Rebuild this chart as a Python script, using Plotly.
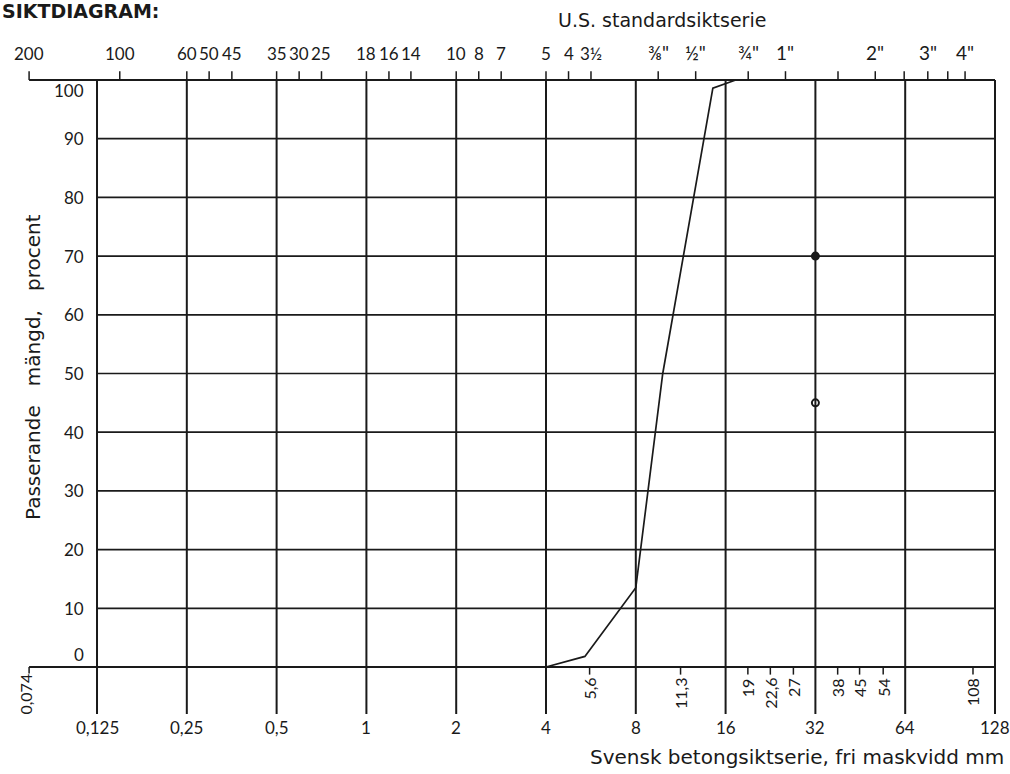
import numpy as np
import plotly.graph_objects as go

# Grading curve: mesh opening (mm) and cumulative passing (%)
sieve_mm = [4.0, 5.4, 8.0, 9.85, 14.5, 17.3]
passing_pct = [0, 1.8, 13.5, 50, 98.6, 100]

# Two single readings on the 32 mm sieve
check_mm = [32, 32]
check_pct = [70, 45]
check_symbols = ["circle", "circle-open"]

# Swedish concrete sieve series (bottom scale)
se_major = [0.125, 0.25, 0.5, 1, 2, 4, 8, 16, 32, 64, 128]
se_major_labels = ["0,125", "0,25", "0,5", "1", "2", "4", "8", "16", "32", "64", "128"]
se_minor = [5.6, 11.3, 19, 22.6, 27, 38, 45, 54, 108]
se_minor_labels = ["5,6", "11,3", "19", "22,6", "27", "38", "45", "54", "108"]
se_start = 0.074
se_start_label = "0,074"

# U.S. standard sieve series (top scale), openings in mm
us_mm = [0.074, 0.149, 0.250, 0.297, 0.354, 0.500, 0.595, 0.707, 1.00, 1.19,
         1.41, 2.00, 2.38, 2.83, 4.00, 4.76, 5.66, 9.51, 12.7, 19.05, 25.4,
         38.1, 50.8, 63.5, 76.2, 88.9, 101.6]
us_labels = ["200", "100", "60", "50", "45", "35", "30", "25", "18", "16",
             "14", "10", "8", "7", "5", "4", "3½", "⅜\"", "½\"", "¾\"", "1\"",
             "", "2\"", "", "3\"", "", "4\""]

pct_ticks = list(range(0, 101, 10))

INK = "#1a1a1a"
NUM_FONT = "Lato"
TXT_FONT = "DejaVu Sans"


def segments(pairs):
    xs, ys = [], []
    for x0, y0, x1, y1 in pairs:
        xs += [x0, x1, None]
        ys += [y0, y1, None]
    return xs, ys


def line_trace(pairs, width):
    xs, ys = segments(pairs)
    return go.Scatter(x=xs, y=ys, mode="lines", hoverinfo="skip",
                      line=dict(color=INK, width=width), showlegend=False)


x_lo, x_hi = se_start, se_major[-1]
fig = go.Figure()

# horizontal grid (10 .. 90 %)
fig.add_trace(line_trace([(se_major[0], p, x_hi, p) for p in pct_ticks[1:-1]], 1.7))
# 0 % and 100 % lines run across the full sieve range
fig.add_trace(line_trace([(x_lo, p, x_hi, p) for p in (pct_ticks[0], pct_ticks[-1])], 1.8))
# main sieve verticals, continuing below the 0 % line as ticks
fig.add_trace(line_trace([(m, -8.0, m, 100) for m in se_major], 2.0))
# intermediate Swedish sieves: short ticks below
fig.add_trace(line_trace([(m, 0, m, -1.3) for m in se_minor] + [(se_start, 0, se_start, -1.1)], 1.5))
# U.S. sieves: short ticks above the 100 % line
fig.add_trace(line_trace([(m, 100, m, 101.5) for m in us_mm], 1.5))

# grading curve
fig.add_trace(go.Scatter(x=sieve_mm, y=passing_pct, mode="lines", hoverinfo="skip",
                         line=dict(color=INK, width=1.7), showlegend=False))
# single readings
fig.add_trace(go.Scatter(x=check_mm, y=check_pct, mode="markers", hoverinfo="skip",
                         marker=dict(symbol=check_symbols, size=7, color=INK,
                                     line=dict(color=INK, width=2)),
                         showlegend=False))

ann = []
# percentage labels
for p in pct_ticks:
    shift = -10 if p == pct_ticks[-1] else (12 if p == pct_ticks[0] else 0)
    ann.append(dict(x=np.log10(se_major[0]), y=p, xref="x", yref="y", text=str(p),
                    xanchor="right", yanchor="middle", xshift=-11, yshift=shift,
                    showarrow=False, font=dict(family=NUM_FONT, size=17, color=INK)))
# U.S. series labels (inch sizes drawn a little larger)
for m, lab in zip(us_mm, us_labels):
    if lab:
        big = '"' in lab
        ann.append(dict(x=np.log10(m), y=100, xref="x", yref="y", text=lab,
                        xanchor="center", yanchor="bottom", yshift=14,
                        showarrow=False,
                        font=dict(family=NUM_FONT, size=19 if big else 17, color=INK)))
# main Swedish sieve labels
for m, lab in zip(se_major, se_major_labels):
    ann.append(dict(x=np.log10(m), y=0, xref="x", yref="y", text=lab,
                    xanchor="center", yanchor="middle", yshift=-61,
                    showarrow=False, font=dict(family=NUM_FONT, size=17, color=INK)))
# intermediate Swedish sieve labels, written upwards
for m, lab in zip(se_minor, se_minor_labels):
    ann.append(dict(x=np.log10(m), y=0, xref="x", yref="y", text=lab, textangle=-90,
                    xanchor="center", yanchor="top", yshift=-9,
                    showarrow=False, font=dict(family=NUM_FONT, size=16, color=INK)))
ann.append(dict(x=np.log10(se_start), y=0, xref="x", yref="y", text=se_start_label,
                textangle=-90, xanchor="center", yanchor="top", xshift=-4, yshift=-5,
                showarrow=False, font=dict(family=NUM_FONT, size=16, color=INK)))

# titles
ann.append(dict(x=np.log10(x_hi), y=0, xref="x", yref="y",
                text="Svensk betongsiktserie, fri maskvidd mm",
                xanchor="right", yanchor="middle", xshift=11, yshift=-90,
                showarrow=False, font=dict(family=TXT_FONT, size=20, color=INK)))
ann.append(dict(x=33 / 1010, y=1 - 367 / 774, xref="paper", yref="paper",
                text="Passerande\u00a0\u00a0 mängd,\u00a0\u00a0 procent", textangle=-90,
                xanchor="center", yanchor="middle",
                showarrow=False, font=dict(family=TXT_FONT, size=20, color=INK)))
ann.append(dict(x=0.0, y=1.0, xref="paper", yref="paper", text="<b>SIKTDIAGRAM:</b>",
                xanchor="left", yanchor="top", yshift=2,
                showarrow=False, font=dict(family=TXT_FONT, size=19, color=INK)))
ann.append(dict(x=662 / 1010, y=1 - 20 / 774, xref="paper", yref="paper",
                text="U.S. standardsiktserie",
                xanchor="center", yanchor="middle",
                showarrow=False, font=dict(family=TXT_FONT, size=19, color=INK)))

fig.update_layout(
    width=1010, height=774,
    margin=dict(l=0, r=0, t=0, b=0),
    paper_bgcolor="white", plot_bgcolor="white",
    xaxis=dict(type="log", range=[-1.2283, 2.1575], visible=False, fixedrange=True),
    yaxis=dict(range=[-18.23, 113.63], visible=False, fixedrange=True),
    annotations=ann,
    showlegend=False,
)

fig.write_html("out.html")
